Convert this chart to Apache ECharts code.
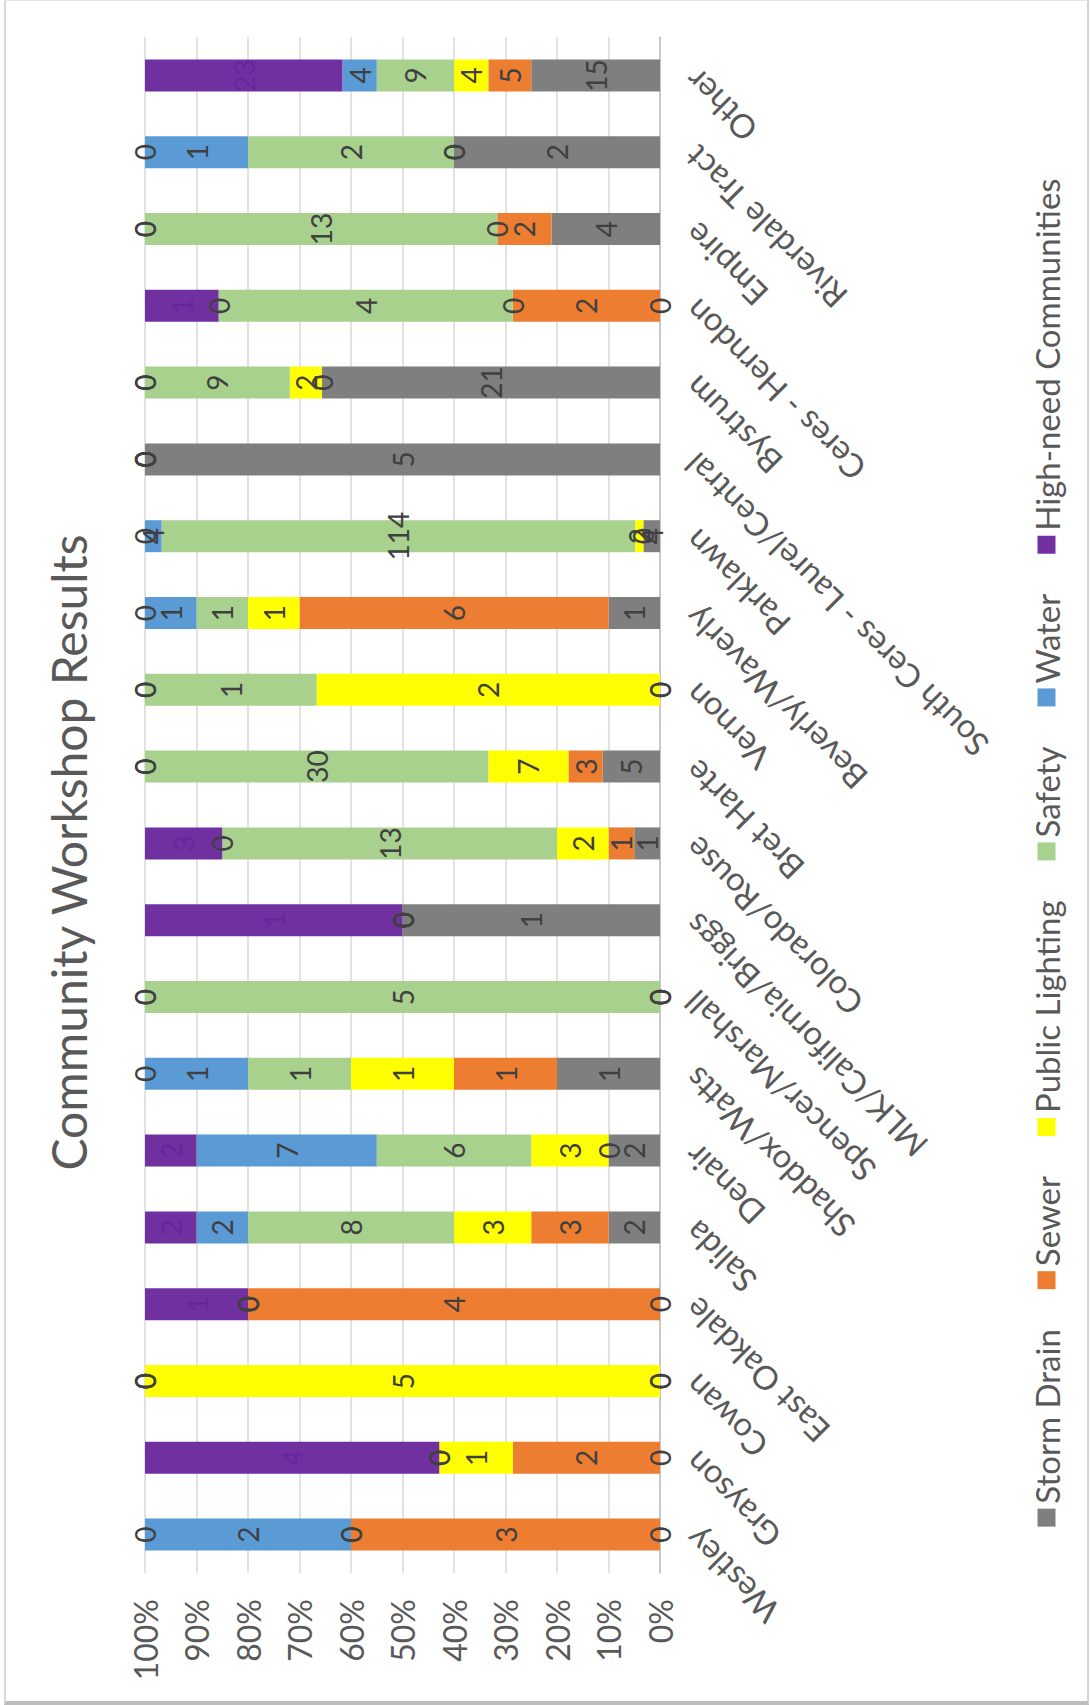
<!DOCTYPE html>
<html><head><meta charset="utf-8">
<script src="https://cdn.jsdelivr.net/npm/echarts@6/dist/echarts.min.js"></script>
<style>
html,body{margin:0;padding:0;width:1091px;height:1705px;overflow:hidden;background:#fff;}
#frame{position:absolute;left:4px;top:0;width:1085px;height:1705px;box-sizing:border-box;border-left:2px solid #d8d8d8;border-top:1px solid #e4e4e4;border-right:2px solid #d4d4d4;border-bottom:4px solid #bdbdbd;}
#chart{position:absolute;left:0;top:0;width:1705px;height:1091px;transform-origin:0 0;transform:translate(0,1705px) rotate(-90deg);}
</style></head><body>
<div id="frame"></div>
<div id="chart"></div>
<script>
const categories = ['Westley','Grayson','Cowan','East Oakdale','Salida','Denair','Shaddox/Watts','Spencer/Marshall','MLK/California/Briggs','Colorado/Rouse','Bret Harte','Vernon','Beverly/Waverly','Parklawn','South Ceres - Laurel/Central','Bystrum','Ceres - Herndon','Empire','Riverdale Tract','Other'];
const stormDrain     = [0,0,0,0,2,2,1,0,1,1,5,0,1,4,5,21,0,4,2,15];
const sewer          = [3,2,0,4,3,0,1,0,0,1,3,0,6,0,0,0,2,2,0,5];
const publicLighting = [0,1,5,0,3,3,1,0,0,2,7,2,1,2,0,2,0,0,0,4];
const safety         = [0,0,0,0,8,6,1,5,0,13,30,1,1,114,0,9,4,13,2,9];
const water          = [2,0,0,0,2,7,1,0,0,0,0,0,1,4,0,0,0,0,1,4];
const highNeed       = [0,4,0,1,2,2,0,0,1,3,0,0,0,0,0,0,1,0,0,23];
const seriesNames = ['Storm Drain','Sewer','Public Lighting','Safety','Water','High-need Communities'];
const seriesColors = ['#7F7F7F','#ED7D31','#FFFF00','#A9D18E','#5B9BD5','#7030A0'];
const yTicks = [0,10,20,30,40,50,60,70,80,90,100];

const raw = [stormDrain, sewer, publicLighting, safety, water, highNeed];
const totals = categories.map((c,i)=>raw.reduce((s,a)=>s+a[i],0));
const FONT = 'Lato, "Open Sans", sans-serif';

const chart = echarts.init(document.getElementById('chart'), null, {renderer:'svg'});
chart.setOption({
  backgroundColor: 'transparent',
  animation: false,
  title: {
    text: 'Community Workshop Results', left: 'center', top: 44, padding: 0,
    textStyle: {fontFamily: FONT, fontSize: 48, fontWeight: 'normal', color: '#595959'}
  },
  legend: {
    data: seriesNames, top: 1030, left: 'center', padding: 0,
    icon: 'rect', itemWidth: 18, itemHeight: 18, itemGap: 40,
    textStyle: {fontFamily: FONT, fontSize: 33, color: '#595959'}
  },
  grid: {left: 132, right: 37, top: 145, bottom: 431, containLabel: false},
  xAxis: {
    type: 'category', data: categories,
    axisLine: {lineStyle: {color: '#BFBFBF', width: 1.5}},
    axisTick: {show: false},
    axisLabel: {interval: 0, rotate: 45, margin: 30, fontFamily: FONT, fontSize: 33, color: '#595959'}
  },
  yAxis: {
    type: 'value', min: yTicks[0], max: yTicks[yTicks.length-1], interval: 10,
    axisLine: {show: false}, axisTick: {show: false},
    axisLabel: {formatter: '{value}%', margin: 26, fontFamily: FONT, fontSize: 32, color: '#595959'},
    splitLine: {lineStyle: {color: '#D9D9D9', width: 1.5}}
  },
  series: raw.map((arr, si) => ({
    name: seriesNames[si], type: 'bar', stack: 'total', barWidth: 32,
    itemStyle: {color: seriesColors[si]},
    data: arr.map((v, i) => ({
      value: totals[i] ? v / totals[i] * 100 : 0,
      label: {color: (si === 5 && v !== 0) ? '#66279C' : '#404040'}
    })),
    label: {
      show: true, position: 'inside',
      formatter: p => String(arr[p.dataIndex]),
      fontFamily: FONT, fontSize: 28
    }
  }))
});
</script>
</body></html>
